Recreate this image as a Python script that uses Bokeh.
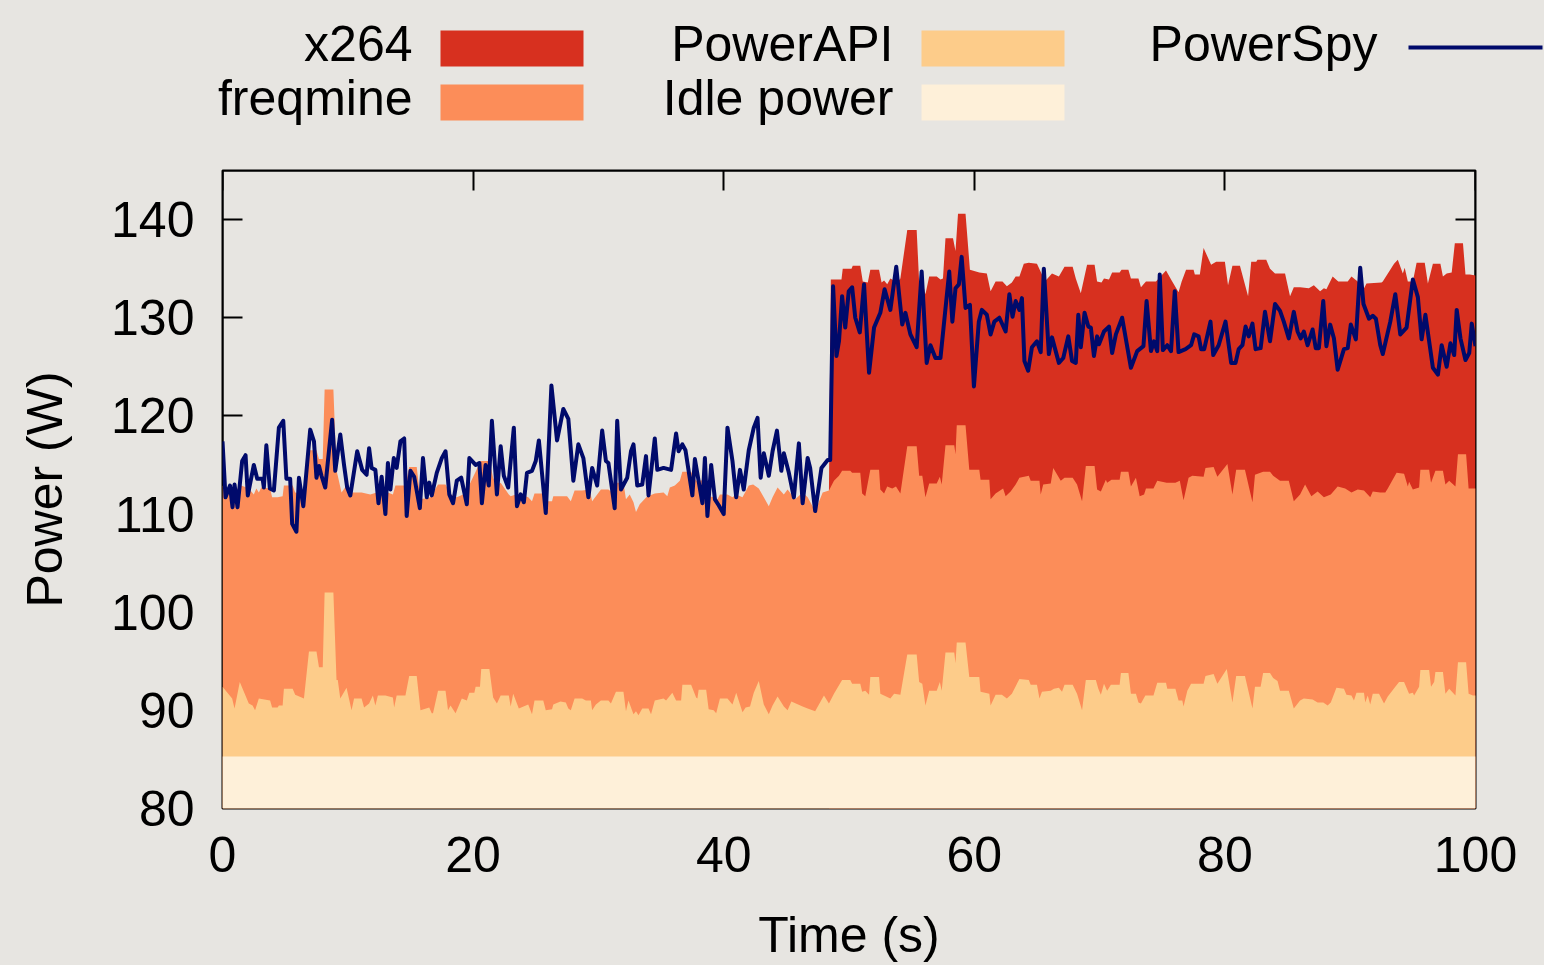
from bokeh.plotting import figure
from bokeh.layouts import column, row
from bokeh.models import Range1d, LinearAxis, FixedTicker
from bokeh.embed import file_html
from bokeh.resources import INLINE
from bokeh.core.properties import value

# ---------------- data ----------------
series_names = ["x264", "freqmine", "PowerAPI", "Idle power", "PowerSpy"]
x_ticks = [0, 20, 40, 60, 80, 100]
y_ticks = [80, 90, 100, 110, 120, 130, 140]

idle_t = [0, 100]
idle_w = [85.3, 85.3]

# PowerAPI estimate (top of the PowerAPI band, W)
papi_t = [0, 0.77, 0.96, 1.38, 2.1, 2.4, 2.6, 2.9, 3.8, 3.96, 4.4, 4.5, 4.8, 4.9, 5.6, 5.8, 6.5, 6.9, 7.5, 7.7,
          8.0, 8.15, 8.85, 9.1, 9.2, 9.4, 9.9, 10.3, 10.5, 11.1, 11.3, 11.7, 12.0, 12.2, 12.4, 13.0, 13.6, 13.7,
          13.9, 14.6, 14.9, 15.5, 15.8, 16.5, 16.7, 16.8, 17.2, 17.8, 18.0, 18.2, 18.6, 19.1, 19.5, 19.7, 20.1,
          20.2, 20.55, 20.65, 21.3, 21.6, 21.9, 22.2, 22.85, 23.0, 23.2, 23.65, 24.4, 24.7, 24.9, 25.6, 25.8,
          26.3, 26.4, 26.97, 27.4, 27.6, 27.8, 28.1, 28.7, 29.0, 29.4, 29.5, 29.8, 30.2, 30.8, 31.0, 31.4, 32.0,
          32.2, 32.4, 32.8, 33.0, 33.2, 33.5, 34.0, 34.2, 34.5, 35.2, 35.4, 35.9, 36.2, 36.6, 36.7, 37.4, 37.8,
          37.9, 38.0, 38.6, 38.8, 39.2, 39.4, 39.7, 40.3, 40.7, 41.0, 41.5, 41.75, 42.1, 42.4, 42.8, 43.2, 43.6,
          43.9, 44.3, 44.8, 45.1, 45.4, 46.3, 46.7, 47.3, 48.0, 48.4, 48.8, 49.45, 50.1, 50.25, 50.9, 51.05,
          51.3, 51.6, 51.7, 52.4, 52.5, 53.3, 53.6, 54.1, 54.65, 55.4, 55.6, 55.85, 56.1, 56.4, 57.0, 57.25,
          57.4, 57.7, 58.4, 58.5, 58.6, 59.3, 59.6, 60.4, 60.5, 61.2, 61.3, 61.7, 62.2, 62.6, 63.0, 63.6, 64.35,
          64.5, 65.0, 65.2, 65.4, 66.1, 66.35, 66.75, 67.0, 67.2, 67.85, 68.2, 68.6, 68.9, 69.7, 69.9, 70.1,
          70.35, 70.6, 70.9, 71.6, 71.7, 72.3, 72.5, 72.9, 73.1, 73.3, 73.65, 74.3, 74.6, 75.3, 75.4, 76.05,
          76.3, 76.6, 76.7, 77.0, 77.3, 78.3, 78.45, 79.1, 79.4, 80.15, 80.6, 80.9, 81.6, 82.2, 82.4, 82.85,
          83.05, 83.6, 83.85, 84.2, 84.4, 85.1, 85.5, 86.0, 86.3, 87.0, 87.4, 87.85, 88.2, 88.45, 88.9, 89.5,
          89.7, 90.1, 90.3, 90.5, 91.1, 91.2, 91.4, 91.6, 91.8, 92.3, 92.7, 93.0, 93.6, 93.9, 94.3, 94.7, 95.0,
          95.1, 95.5, 95.6, 96.3, 96.45, 96.7, 96.8, 97.4, 97.6, 97.9, 98.4, 98.6, 99.25, 99.45, 99.8, 100]
papi_w = [92.4, 91.2, 90.2, 92.9, 90.7, 90.5, 90.0, 91.2, 91.0, 90.3, 90.3, 90.5, 90.5, 92.2, 92.2, 91.6, 91.2,
          96.0, 96.0, 94.4, 94.4, 102.0, 102.0, 93.1, 93.1, 91.2, 92.3, 90.0, 91.2, 91.2, 90.3, 90.7, 91.5, 90.5,
          91.5, 91.5, 91.3, 90.3, 91.5, 91.5, 93.5, 93.5, 90.0, 90.3, 89.7, 89.7, 92.0, 92.0, 90.0, 90.5, 89.7,
          91.2, 91.0, 91.8, 91.8, 92.4, 92.4, 94.2, 94.2, 91.3, 90.7, 91.5, 91.5, 90.4, 91.7, 90.2, 90.6, 89.6,
          91.0, 91.0, 90.0, 90.1, 90.6, 90.9, 90.8, 90.2, 90.0, 91.2, 91.2, 91.0, 91.0, 90.0, 90.6, 91.0, 91.0,
          90.7, 91.9, 91.9, 89.9, 91.0, 89.6, 89.9, 89.5, 90.2, 90.2, 89.6, 91.0, 91.2, 91.0, 91.8, 91.0, 91.0,
          92.6, 92.6, 91.3, 91.2, 92.1, 92.1, 90.1, 90.0, 89.7, 91.2, 91.2, 90.6, 91.8, 89.8, 90.3, 90.4, 91.8,
          93.0, 90.6, 89.6, 90.5, 91.4, 90.4, 90.0, 90.9, 90.4, 90.2, 89.9, 91.5, 90.7, 91.7, 93.1, 93.1, 92.7,
          92.7, 91.9, 92.0, 91.6, 93.4, 93.4, 91.7, 91.2, 91.7, 91.6, 95.7, 95.7, 92.9, 92.7, 90.5, 92.0, 92.0,
          92.9, 92.0, 95.9, 95.9, 94.8, 96.9, 96.9, 93.4, 93.4, 91.9, 91.7, 90.5, 91.6, 91.6, 91.2, 91.7, 93.2,
          93.1, 92.6, 92.6, 91.2, 91.9, 92.0, 92.2, 92.3, 91.9, 92.6, 92.6, 91.7, 90.0, 93.1, 93.1, 92.2, 91.6,
          92.7, 92.0, 92.6, 92.6, 93.8, 93.8, 91.7, 91.7, 90.8, 90.7, 91.5, 91.5, 92.8, 92.8, 92.2, 92.2, 91.0,
          91.0, 90.4, 92.0, 92.7, 92.7, 93.5, 93.7, 92.7, 94.2, 90.8, 93.5, 93.5, 90.2, 92.4, 92.4, 93.8, 93.8,
          93.3, 93.0, 92.0, 92.0, 90.2, 91.0, 91.2, 91.1, 90.8, 90.8, 90.5, 90.8, 92.3, 92.2, 91.6, 91.5, 91.0,
          91.8, 91.8, 90.8, 91.5, 90.6, 91.7, 91.7, 90.7, 91.4, 92.4, 92.9, 92.9, 91.7, 91.8, 91.5, 92.4, 94.1,
          94.1, 92.4, 92.9, 93.9, 93.9, 91.7, 92.2, 91.5, 94.9, 94.9, 91.7, 91.5, 91.5]

# freqmine (top of the freqmine band, W)
freq_t = [0, 0.6, 0.8, 1.3, 2.1, 2.5, 2.7, 2.9, 3.1, 3.8, 3.96, 4.4, 4.8, 4.9, 5.6, 5.8, 6.5, 6.9, 7.5, 7.7, 8.0,
          8.15, 8.85, 9.1, 9.2, 9.5, 9.9, 10.3, 11.1, 11.8, 12.3, 12.8, 13.6, 13.8, 14.6, 14.9, 15.5, 15.8, 16.6,
          17.2, 17.8, 18.2, 18.7, 19.2, 19.6, 20.2, 20.6, 21.3, 21.6, 21.9, 22.2, 22.85, 23.0, 23.4, 23.8, 24.4,
          24.7, 24.9, 25.5, 25.8, 26.3, 26.4, 27.5, 27.8, 28.1, 28.7, 29.3, 29.5, 29.8, 30.2, 30.8, 31.1, 31.4,
          32.0, 32.2, 32.5, 32.8, 33.0, 33.3, 33.9, 34.3, 34.5, 35.2, 35.5, 35.7, 36.1, 36.5, 36.7, 37.4, 37.8,
          38.0, 38.6, 38.8, 39.2, 39.5, 39.7, 40.3, 40.7, 41.0, 41.5, 42.0, 42.35, 42.8, 43.2, 43.6, 43.9, 44.3,
          44.8, 45.1, 45.7, 46.3, 46.7, 47.3, 47.9, 48.4, 48.8, 49.2, 49.45, 50.1, 50.25, 50.9, 51.05, 51.3,
          51.7, 52.4, 52.5, 52.8, 53.05, 53.45, 53.75, 54.1, 54.65, 55.4, 55.6, 55.85, 56.1, 56.4, 57.0, 57.25,
          57.4, 57.7, 58.4, 58.5, 58.6, 59.3, 59.6, 60.4, 60.5, 61.2, 61.3, 61.7, 62.3, 62.5, 62.9, 63.3, 63.6,
          64.35, 64.5, 65.2, 65.3, 65.5, 66.1, 66.3, 66.9, 67.2, 67.85, 68.2, 68.6, 68.9, 69.6, 69.8, 70.1, 70.5,
          70.6, 70.95, 71.6, 71.7, 72.3, 72.5, 72.9, 73.2, 73.55, 73.7, 74.3, 74.6, 75.35, 76.05, 76.4, 76.7,
          77.1, 77.4, 78.3, 78.45, 79.1, 79.4, 80.2, 80.6, 80.9, 81.6, 82.2, 82.4, 83.05, 83.6, 83.85, 84.4,
          85.1, 85.5, 86.0, 86.4, 86.9, 87.4, 87.9, 88.45, 89.0, 89.6, 90.1, 90.6, 91.1, 91.6, 91.8, 92.4, 92.8,
          93.0, 93.7, 94.3, 94.6, 94.7, 95.0, 95.5, 95.6, 96.3, 96.45, 96.8, 97.4, 97.6, 97.9, 98.4, 98.6,
          99.25, 99.45, 99.8, 100]
freq_w = [112.9, 112.0, 110.7, 113.0, 112.6, 112.0, 112.6, 112.2, 112.7, 112.6, 111.7, 111.7, 111.8, 112.9,
          112.9, 112.2, 112.0, 116.5, 116.5, 115.6, 115.6, 122.7, 122.7, 114.4, 113.9, 112.2, 112.9, 112.2,
          112.2, 112.0, 112.2, 112.4, 112.0, 112.9, 112.9, 114.8, 114.8, 111.5, 111.7, 113.0, 113.0, 112.0,
          111.7, 112.0, 112.7, 114.3, 115.4, 115.4, 113.7, 112.9, 113.2, 112.0, 111.8, 112.0, 112.0, 111.7,
          111.3, 112.1, 112.1, 111.3, 111.3, 111.8, 111.8, 111.3, 112.4, 112.4, 112.5, 111.3, 111.8, 112.5,
          112.5, 112.2, 113.2, 113.2, 111.5, 112.0, 111.2, 110.2, 111.0, 111.8, 112.0, 112.1, 112.2, 111.8,
          112.7, 112.9, 113.4, 114.3, 114.3, 113.4, 113.4, 113.5, 111.8, 111.7, 111.5, 112.0, 112.0, 111.7,
          112.0, 111.7, 112.9, 113.0, 112.6, 111.7, 110.8, 111.7, 112.7, 112.0, 112.5, 111.5, 112.2, 111.7,
          110.3, 112.2, 112.4, 113.4, 113.9, 114.4, 114.4, 114.2, 114.2, 112.1, 111.8, 114.5, 114.5, 112.5,
          112.1, 112.8, 112.6, 112.8, 112.1, 116.9, 116.9, 113.9, 113.9, 111.7, 113.1, 113.1, 113.8, 113.0,
          117.0, 117.0, 116.1, 119.05, 119.05, 114.5, 114.5, 113.5, 113.5, 111.5, 112.1, 112.6, 111.8, 112.3,
          113.0, 113.7, 113.9, 113.4, 113.4, 112.0, 113.0, 113.1, 114.7, 113.4, 113.7, 113.7, 113.0, 111.3,
          114.9, 114.9, 112.5, 112.3, 113.5, 113.2, 113.5, 113.5, 114.3, 114.3, 112.8, 113.7, 111.8, 112.0,
          112.6, 112.6, 113.4, 113.2, 113.2, 113.4, 111.4, 113.7, 113.9, 113.8, 114.7, 114.8, 113.8, 115.1,
          112.0, 114.5, 114.5, 111.2, 114.0, 114.3, 114.3, 113.9, 113.4, 113.4, 111.3, 112.0, 113.0, 111.8,
          112.3, 111.7, 112.0, 112.8, 112.6, 112.2, 112.5, 112.4, 111.7, 112.3, 112.2, 112.2, 112.6, 114.2,
          114.1, 112.8, 113.3, 112.5, 112.7, 114.5, 114.5, 113.2, 114.4, 114.4, 113.0, 113.4, 112.8, 116.1,
          116.1, 112.6, 112.6, 112.6]

# x264 (top of the x264 band, W), present from ~48.5 s
x264_t = [48.4, 48.55, 48.7, 49.4, 49.5, 50.2, 50.3, 50.9, 51.1, 51.5, 51.7, 52.4, 52.6, 52.8, 53.05, 53.3,
          53.85, 54.1, 54.65, 55.4, 55.6, 55.85, 56.1, 56.4, 57.0, 57.3, 57.5, 57.7, 58.3, 58.5, 58.7, 59.3,
          59.65, 60.4, 61.0, 61.3, 61.7, 62.25, 62.6, 63.0, 63.3, 63.6, 63.95, 64.35, 65.0, 65.4, 65.7, 66.2,
          66.75, 67.2, 67.85, 68.1, 68.5, 69.0, 69.6, 69.8, 70.15, 70.35, 70.75, 71.0, 71.6, 71.75, 72.3, 72.5,
          73.1, 73.3, 73.7, 74.5, 75.3, 75.75, 76.3, 76.55, 76.9, 77.5, 77.6, 78.0, 78.3, 78.9, 79.3, 80.0,
          80.25, 80.6, 81.2, 81.85, 82.1, 82.5, 82.6, 83.3, 83.6, 84.0, 84.8, 85.2, 85.5, 86.0, 86.7, 87.1,
          87.6, 87.9, 88.1, 88.6, 89.05, 89.8, 90.1, 90.6, 90.9, 91.3, 92.5, 92.6, 93.5, 93.8, 94.2, 94.35,
          94.6, 95.0, 95.3, 95.95, 96.2, 96.6, 97.2, 97.4, 97.7, 98.1, 98.35, 99.0, 99.2, 99.55, 100]
x264_w = [112.4, 133.9, 133.9, 133.9, 135.0, 135.0, 135.3, 135.3, 133.7, 133.6, 134.9, 134.9, 133.6, 133.8,
          133.4, 134.0, 133.6, 134.0, 138.95, 138.95, 133.6, 133.7, 132.4, 134.2, 134.2, 133.9, 134.0, 138.1,
          138.1, 136.8, 140.6, 140.6, 134.9, 134.6, 134.5, 132.7, 133.7, 133.7, 133.2, 133.6, 134.2, 134.2,
          135.5, 135.6, 135.5, 134.4, 133.8, 134.5, 134.2, 135.2, 135.2, 134.0, 132.5, 135.4, 135.4, 133.7,
          133.6, 134.0, 133.9, 134.6, 134.6, 134.9, 134.9, 134.0, 134.0, 133.1, 133.7, 133.7, 134.8, 133.8,
          132.6, 133.7, 134.9, 134.9, 134.4, 134.4, 137.1, 135.4, 135.7, 135.7, 133.3, 135.3, 135.3, 132.2,
          135.7, 135.7, 135.9, 135.9, 135.0, 134.5, 134.5, 132.2, 133.1, 133.1, 133.0, 133.3, 132.7, 133.0,
          132.9, 134.2, 133.7, 133.7, 134.2, 133.7, 132.5, 133.5, 133.6, 133.7, 135.5, 135.9, 134.5, 135.1,
          133.7, 133.7, 135.6, 135.6, 133.5, 135.5, 135.5, 134.2, 134.5, 134.6, 137.6, 137.6, 134.4, 134.4,
          134.3]

# PowerSpy wattmeter (W)
spy_t = [0, 0.24, 0.6, 0.8, 0.96, 1.2, 1.57, 1.84, 2.02, 2.5, 2.77, 3.2, 3.3, 3.5, 3.78, 4.1, 4.5, 4.85, 5.1,
         5.4, 5.56, 5.9, 6.1, 6.45, 7.0, 7.3, 7.5, 7.7, 7.9, 8.2, 8.75, 9.0, 9.4, 9.7, 9.95, 10.2, 10.75, 11.15,
         11.5, 11.7, 11.9, 12.2, 12.45, 12.7, 13.0, 13.2, 13.4, 13.67, 13.9, 14.2, 14.5, 14.7, 15.0, 15.3,
         15.75, 16.0, 16.3, 16.5, 16.7, 17.1, 17.5, 17.8, 18.1, 18.4, 18.7, 19.05, 19.5, 19.7, 20.2, 20.5, 20.7,
         21.0, 21.25, 21.5, 21.9, 22.2, 22.45, 22.8, 23.25, 23.5, 23.8, 24.05, 24.3, 24.7, 25.0, 25.25, 25.8,
         26.25, 26.7, 27.2, 27.6, 28.0, 28.4, 28.8, 29.2, 29.5, 29.9, 30.3, 30.6, 30.8, 31.3, 31.5, 31.8, 32.3,
         32.6, 32.8, 33.1, 33.5, 33.8, 34.0, 34.5, 34.7, 35.2, 35.8, 36.2, 36.4, 36.7, 36.95, 37.5, 37.7, 38.3,
         38.5, 38.7, 39.0, 39.3, 39.6, 40.0, 40.3, 40.7, 41.0, 41.3, 41.6, 42.0, 42.4, 42.7, 42.95, 43.2, 43.6,
         43.9, 44.25, 44.6, 44.8, 45.2, 45.6, 46.0, 46.3, 46.7, 46.9, 47.3, 47.6, 47.8, 48.3, 48.5, 48.73, 49.0,
         49.2, 49.45, 49.7, 49.98, 50.25, 50.5, 50.86, 51.2, 51.6, 52.0, 52.5, 52.84, 53.3, 53.77, 54.25, 54.5,
         54.9, 55.4, 55.8, 56.2, 56.5, 56.9, 57.3, 58.0, 58.25, 58.5, 58.77, 58.99, 59.3, 59.65, 59.97, 60.36,
         60.6, 61.0, 61.3, 61.6, 62.0, 62.5, 62.8, 63.05, 63.3, 63.6, 63.8, 64.0, 64.3, 64.6, 65.0, 65.3, 65.55,
         65.95, 66.2, 66.75, 67.1, 67.5, 67.8, 68.1, 68.3, 68.5, 68.8, 69.1, 69.3, 69.55, 69.8, 69.95, 70.35,
         70.75, 71.0, 71.3, 71.8, 72.5, 73.0, 73.5, 73.75, 74.1, 74.34, 74.6, 74.8, 75.05, 75.4, 75.7, 76.0,
         76.3, 76.86, 77.3, 77.55, 77.9, 78.1, 78.35, 78.85, 79.07, 79.5, 80.05, 80.5, 80.85, 81.1, 81.4, 81.65,
         81.9, 82.2, 82.45, 82.85, 83.2, 83.6, 84.0, 84.4, 84.7, 85.1, 85.5, 85.8, 86.05, 86.3, 86.6, 87.0,
         87.25, 87.5, 87.85, 88.1, 88.4, 88.7, 89.0, 89.5, 89.8, 90.05, 90.45, 90.8, 91.06, 91.5, 91.8, 92.05,
         92.4, 92.6, 93.2, 93.6, 94.0, 94.5, 95.0, 95.4, 95.7, 96.0, 96.3, 96.6, 97.0, 97.3, 97.7, 98.0, 98.3,
         98.5, 98.8, 99.2, 99.5, 99.7, 100]
spy_w = [117.4, 111.7, 112.9, 110.7, 113.0, 110.7, 115.4, 116.0, 111.9, 115.0, 113.6, 113.6, 112.7, 117.0,
         112.6, 112.4, 118.8, 119.5, 113.6, 113.6, 109.0, 108.2, 113.7, 110.8, 118.6, 117.4, 113.7, 114.9,
         113.9, 112.7, 119.6, 114.4, 118.1, 115.0, 112.7, 111.9, 116.4, 114.5, 114.0, 116.7, 114.7, 114.5,
         111.1, 113.8, 110.0, 115.2, 112.5, 115.7, 114.7, 117.4, 117.7, 109.8, 114.4, 113.8, 110.6, 115.7,
         111.7, 113.2, 111.9, 114.2, 115.7, 116.4, 112.0, 111.1, 113.4, 113.7, 111.0, 115.7, 115.0, 115.2,
         111.1, 115.0, 112.9, 119.5, 112.0, 116.9, 113.9, 112.7, 118.8, 110.8, 112.0, 111.2, 114.2, 114.4,
         115.4, 117.5, 110.1, 123.1, 117.5, 120.7, 119.7, 113.4, 117.1, 115.7, 111.7, 114.7, 112.9, 118.5,
         115.4, 115.2, 110.6, 119.5, 112.5, 113.7, 116.4, 117.1, 112.9, 113.0, 115.9, 111.9, 117.7, 114.5,
         114.7, 114.5, 118.2, 116.4, 117.1, 116.5, 111.9, 115.6, 111.1, 115.7, 109.8, 115.0, 111.5, 110.9,
         110.0, 118.8, 115.4, 111.7, 114.5, 112.5, 116.5, 118.8, 119.8, 113.7, 116.2, 113.9, 116.4, 118.5,
         114.4, 116.2, 114.2, 111.7, 117.2, 111.1, 115.7, 114.7, 110.3, 112.9, 114.7, 115.5, 115.5, 133.2,
         126.1, 127.6, 132.2, 129.0, 132.7, 133.1, 130.0, 128.5, 133.4, 124.4, 129.0, 130.5, 132.9, 130.8,
         135.2, 129.3, 130.5, 128.3, 127.0, 134.7, 125.4, 127.2, 125.9, 125.9, 134.7, 129.6, 133.0, 133.4,
         136.2, 131.0, 131.3, 123.0, 129.6, 130.8, 130.3, 128.3, 129.6, 130.0, 128.6, 132.4, 130.1, 131.7,
         130.8, 132.0, 125.6, 124.6, 127.0, 127.6, 126.5, 135.0, 126.3, 128.0, 125.4, 125.9, 128.1, 125.6,
         125.4, 130.3, 127.0, 130.5, 129.1, 129.0, 126.1, 128.1, 127.3, 128.6, 129.1, 126.4, 128.3, 130.0,
         124.9, 126.6, 127.1, 131.7, 126.6, 127.6, 126.6, 134.4, 126.7, 127.2, 126.6, 132.7, 126.5, 126.8,
         127.2, 128.3, 128.1, 126.8, 126.8, 129.6, 126.2, 127.2, 129.6, 125.4, 125.4, 126.8, 127.2, 129.1,
         128.1, 129.4, 126.8, 126.9, 130.6, 127.6, 131.4, 130.7, 129.6, 127.9, 130.6, 128.6, 127.9, 128.6,
         127.2, 128.8, 126.9, 126.9, 131.7, 127.1, 129.3, 127.9, 124.7, 126.8, 126.9, 129.3, 127.8, 135.1,
         131.4, 129.9, 130.2, 129.9, 127.2, 126.3, 129.6, 132.4, 128.3, 129.0, 133.9, 132.1, 127.8, 130.3,
         127.6, 124.9, 124.2, 127.2, 125.0, 127.4, 126.2, 130.8, 127.9, 125.7, 126.4, 129.4, 127.1]

# ---------------- style ----------------
W, H = 1544, 965
LEG_H = 140
FL, FR, FT, FB = 222, 1475, 170, 808   # frame edges in page pixels
BG = "#e7e5e1"
FONT = "Liberation Sans"
FS = "50px"
colors = ["#d7301f", "#fc8d59", "#fdcc8a", "#fef0d9", "#000a6b"]

# ---------------- legend strip (own figure, pixel-like coordinates) ----------------
leg = figure(width=W, height=LEG_H, x_range=Range1d(0, W), y_range=Range1d(LEG_H, 0),
             output_backend="svg", toolbar_location=None, x_axis_location=None, y_axis_location=None,
             min_border=0)
leg.grid.visible = False
leg.outline_line_color = None
leg.background_fill_color = BG
leg.border_fill_color = BG

sw_left = [440, 440, 921, 921]
sw_top = [30, 84, 30, 84]
leg.quad(left=sw_left, right=[v + 143 for v in sw_left], top=sw_top, bottom=[v + 36 for v in sw_top],
         fill_color=colors[:4], line_color=None)
leg.segment(x0=[1408], y0=[47], x1=[1542], y1=[47], line_color=colors[4], line_width=4)
leg.text(x=[412, 412, 893, 893, 1377], y=[43, 97, 43, 97, 43], text=series_names,
         text_align="right", text_baseline="middle", text_font=value(FONT), text_font_size=FS,
         text_color="black")

# ---------------- main plot ----------------
p = figure(width=W, height=H - LEG_H, x_range=Range1d(0, 100), y_range=Range1d(80, 145),
           output_backend="svg", toolbar_location=None, x_axis_location=None, y_axis_location=None,
           min_border_left=FL, min_border_right=W - FR, min_border_top=FT - LEG_H, min_border_bottom=H - FB)
p.background_fill_color = BG
p.border_fill_color = BG
p.grid.visible = False
p.outline_line_color = "black"
p.outline_line_width = 2

# stacked bands drawn back to front
p.varea(x=x264_t, y1=80, y2=x264_w, fill_color=colors[0])
p.varea(x=freq_t, y1=80, y2=freq_w, fill_color=colors[1])
p.varea(x=papi_t, y1=80, y2=papi_w, fill_color=colors[2])
p.varea(x=idle_t, y1=80, y2=idle_w, fill_color=colors[3])
p.line(spy_t, spy_w, line_color=colors[4], line_width=4, line_join="round")


def tick_axis(ticks):
    ax = LinearAxis(ticker=FixedTicker(ticks=ticks))
    ax.minor_tick_line_color = None
    ax.major_tick_in = 20
    ax.major_tick_out = 0
    ax.major_tick_line_width = 2
    ax.major_tick_line_color = "black"
    ax.axis_line_color = "black"
    ax.axis_line_width = 2
    ax.major_label_text_font_size = "1px"
    ax.major_label_text_color = None
    ax.major_label_standoff = 0
    ax.level = "underlay"
    return ax


def label_axis(ticks, title, standoff, title_standoff):
    ax = LinearAxis(ticker=FixedTicker(ticks=ticks))
    ax.minor_tick_line_color = None
    ax.major_tick_in = 0
    ax.major_tick_out = 0
    ax.major_tick_line_color = None
    ax.axis_line_color = None
    ax.major_label_text_font = FONT
    ax.major_label_text_font_size = FS
    ax.major_label_text_color = "black"
    ax.major_label_standoff = standoff
    ax.axis_label = title
    ax.axis_label_text_font = FONT
    ax.axis_label_text_font_size = FS
    ax.axis_label_text_font_style = "normal"
    ax.axis_label_text_color = "black"
    ax.axis_label_standoff = title_standoff
    return ax


p.add_layout(tick_axis(x_ticks), "below")
p.add_layout(label_axis(x_ticks, "Time (s)", 28, 32), "below")
p.add_layout(tick_axis(y_ticks), "left")
p.add_layout(label_axis(y_ticks, "Power (W)", 28, 35), "left")
p.add_layout(tick_axis(x_ticks), "above")
p.add_layout(tick_axis(y_ticks), "right")

# wrap the legend strip so the column does not align its frame with the main plot's frame
layout = column(row(leg, styles={"background-color": BG}), p, spacing=0,
                styles={"background-color": BG})
open("out.html", "w").write(file_html(layout, INLINE))
